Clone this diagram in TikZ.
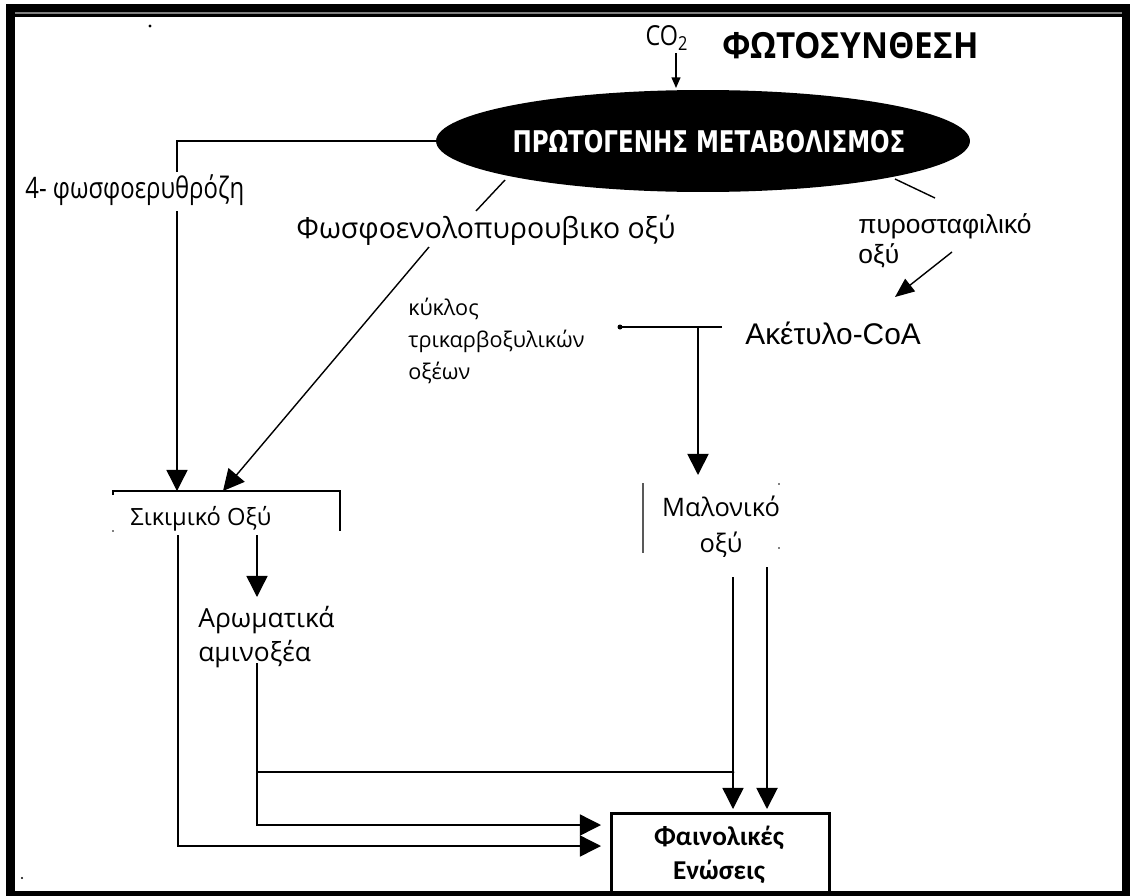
\documentclass[tikz,border=0pt]{standalone}
\usepackage{fontspec}
\setmainfont{Open Sans}
\newfontfamily\arialf{Liberation Sans}
\newfontfamily\heavyf{DejaVu Sans}
\newfontfamily\calf{Carlito}
\usetikzlibrary{arrows.meta,shapes.geometric}
\tikzset{
  lbl/.style={inner sep=0pt, align=left, font=\fontsize{15}{18}\selectfont},
  thin/.style={line width=0.8pt},
  bigarr/.style={thin, -{Triangle[width=12pt,length=12pt]}},
  midarr/.style={thin, -{Triangle[width=9pt,length=11pt]}},
  smallarr/.style={thin, -{Triangle[width=5pt,length=6pt]}},
}
\begin{document}
\begin{tikzpicture}[x=0.02cm,y=-0.02cm]
\useasboundingbox (0,0) rectangle (1130,896);
% frame
\fill[black] (6,4) rectangle (1130,896);
\fill[white] (15,17) rectangle (1122,891);
\draw[gray, line width=0.6pt] (15,13) -- (1122,13);
\fill (150,26) circle (1.6);
\fill (22,878) circle (1.2);
% title
\node[inner sep=0pt, anchor=west, font=\fontsize{19.5}{22}\selectfont\bfseries] (title) at (722,46) {\scalebox{0.97}[1.05]{ΦΩΤΟΣΥΝΘΕΣΗ}};
\node[inner sep=0pt, font=\fontsize{14}{16}\selectfont] (co2) at (667,38) {\scalebox{0.95}[1.12]{CO\textsubscript{2}}};
\coordinate (co2s) at (676,53);
\coordinate (co2e) at (676,88);
\draw[smallarr] (co2s) -- (co2e);
% ellipse
\node[ellipse, fill=black, inner sep=0pt, minimum width=10.68cm, minimum height=2.04cm] (pm) at (703,141) {};
\node[inner sep=0pt, text=white, font=\heavyf\fontsize{17}{18}\selectfont\bfseries] (pmt) at (709,142) {\scalebox{0.77}[1]{ΠΡΩΤΟΓΕΝΗΣ ΜΕΤΑΒΟΛΙΣΜΟΣ}};
% labels
\node[lbl, anchor=west, font=\fontsize{16}{17}\selectfont] (ery) at (25,190) {\scalebox{0.85}[1.05]{4- φωσφοερυθρόζη}};
\node[lbl, anchor=west, font=\fontsize{16.5}{18}\selectfont] (pep) at (296,230) {\scalebox{0.98}[1]{Φωσφοενολοπυρουβικο οξύ}};
\node[lbl, anchor=north west, font=\arialf\fontsize{15}{17}\selectfont] (pyr) at (858,213) {πυροσταφιλικό\\οξύ};
\node[lbl, anchor=west, font=\arialf\fontsize{17}{19}\selectfont] (acet) at (745,333) {Ακέτυλο-CoA};
\node[lbl, anchor=north west, font=\fontsize{12.3}{18}\selectfont] (tca) at (408,298) {κύκλος\\τρικαρβοξυλικών\\οξέων};
\node[lbl, anchor=west, font=\fontsize{13.5}{16}\selectfont] (sik) at (130,519) {Σικιμικό Οξύ};
\node[lbl, anchor=north west, font=\fontsize{15}{19.5}\selectfont] (aro) at (198,606) {Αρωματικά\\αμινοξέα};
\node[lbl, anchor=north, align=center, font=\fontsize{14.5}{20}\selectfont] (mal) at (721,496) {Μαλονικό\\οξύ};
\node[draw, line width=1.7pt, minimum width=4.36cm, minimum height=2.0cm, anchor=north west, inner sep=0pt] (phen) at (610,812) {};
\node[inner sep=0pt, align=center, font=\calf\fontsize{15.5}{19.5}\selectfont\bfseries] (phent) at (719,855) {Φαινολικές\\Ενώσεις};
% Shikimic open box
\coordinate (sbl) at (113,495);
\coordinate (sbr) at (340,531);
\draw[thin] (sbl) -- (113,491) -- (340,491) -- (sbr);
\fill (113,531) circle (0.9);
% left branch from ellipse
\coordinate (k1) at (177,172);
\coordinate (k2) at (177,211);
\coordinate (k3) at (177,491);
\draw[thin] (pm.west) -| (k1);
\draw[bigarr] (k2) -- (k3);
% PEP
\coordinate (p1) at (505,180);
\coordinate (p2) at (476,211);
\coordinate (p3) at (429,247);
\coordinate (p4) at (223,491);
\draw[thin] (p1) -- (p2);
\draw[bigarr] (p3) -- (p4);
% pyruvate
\coordinate (y1) at (895,179);
\coordinate (y2) at (935,198);
\coordinate (y3) at (952,252);
\coordinate (y4) at (895,297);
\draw[thin] (y1) -- (y2);
\draw[midarr] (y3) -- (y4);
% acetyl
\coordinate (a1) at (722,327);
\coordinate (a2) at (620,327);
\coordinate (a3) at (698,327);
\coordinate (a4) at (698,475);
\draw[thin] (a1) -- (a2);
\fill (a2) circle (2.5);
\draw[bigarr, line width=1pt] (a3) -- (a4);
% malonic
\draw[gray!70!black, line width=0.9pt] (643,483) -- (643,553);
\fill (779,484) circle (0.8);
\fill (779,548) circle (0.8);
\coordinate (m1) at (733,577);
\coordinate (m2) at (767,567);
\coordinate (j1) at (733,772);
\draw[bigarr] (m1) -- (733,809);
\draw[bigarr, line width=1.1pt] (m2) -- (767,809);
% shikimic to aromatic
\coordinate (s1) at (257,535);
\draw[bigarr] (s1) -- (257,597);
% aromatic down
\coordinate (r1) at (257,663);
\coordinate (r2) at (257,825);
\draw[bigarr] (r1) -- (r2) -- (601,825);
\coordinate (r3) at (257,772);
\draw[thin] (r3) -- (j1);
\fill (j1) circle (1.5);
% shikimic long
\coordinate (l1) at (178,535);
\coordinate (l2) at (178,846);
\draw[bigarr] (l1) -- (l2) -- (601,846);
\end{tikzpicture}
\end{document}
